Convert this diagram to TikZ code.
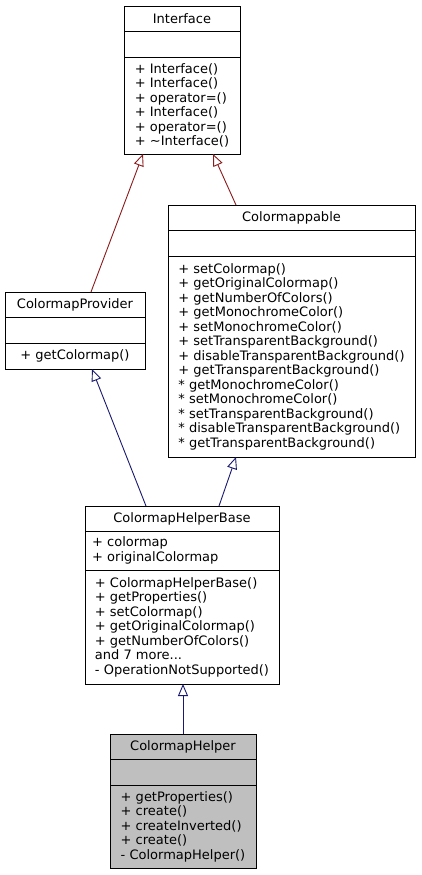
\documentclass[tikz,border=0pt]{standalone}
\usepackage{fontspec}
\setmainfont{DejaVu Sans}
\usetikzlibrary{positioning,arrows.meta}

\tikzset{
  classpart/.style={draw=black, line width=0.9pt, outer sep=0pt, inner sep=0pt,
    font=\fontsize{13}{14.5}\selectfont, align=left, fill=white},
  redline/.style={draw={rgb,255:red,139;green,26;blue,26}, line width=0.9pt,
    -{Triangle[open,length=12pt,width=10pt,fill=white]}},
  blueline/.style={draw={rgb,255:red,25;green,25;blue,112}, line width=0.9pt,
    -{Triangle[open,length=12pt,width=10pt,fill=white]}},
}

\begin{document}
\begin{tikzpicture}[x=1pt, y=1pt, node distance=0pt]
            \useasboundingbox (0,0) rectangle (421,-875);
            % Interface
            \node[classpart, minimum width=116, minimum height=25] (ifaceT) at (182,-18.5) {Interface};
            \node[classpart, minimum width=116, minimum height=26, below=of ifaceT] (ifaceA) {};
            \node[classpart, minimum width=116, minimum height=97, below=of ifaceA] (ifaceM)
              {+ Interface()\\+ Interface()\\+ operator=()\\+ Interface()\\+ operator=()\\+ \textasciitilde Interface()};
            % Colormappable
            \node[classpart, minimum width=247, minimum height=25] (cmapT) at (291.5,-217.5) {Colormappable};
            \node[classpart, minimum width=247, minimum height=26, below=of cmapT] (cmapA) {};
            \node[classpart, minimum width=247, minimum height=201, below=of cmapA] (cmapM)
              {+ setColormap()\\+ getOriginalColormap()\\+ getNumberOfColors()\\+ getMonochromeColor()\\%
               + setMonochromeColor()\\+ setTransparentBackground()\\+ disableTransparentBackground()\\%
               + getTransparentBackground()\\* getMonochromeColor()\\* setMonochromeColor()\\%
               * setTransparentBackground()\\* disableTransparentBackground()\\* getTransparentBackground()};
            % ColormapProvider
            \node[classpart, minimum width=140, minimum height=25] (provT) at (75,-304.5) {ColormapProvider};
            \node[classpart, minimum width=140, minimum height=26, below=of provT] (provA) {};
            \node[classpart, minimum width=140, minimum height=26, below=of provA] (provM) {+ getColormap()};
            % ColormapHelperBase
            \node[classpart, minimum width=194, minimum height=25] (baseT) at (182,-518.5) {ColormapHelperBase};
            \node[classpart, minimum width=194, minimum height=39, text width=180pt, below=of baseT] (baseA)
              {+ colormap\\+ originalColormap};
            \node[classpart, minimum width=194, minimum height=114, below=of baseA] (baseM)
              {+ ColormapHelperBase()\\+ getProperties()\\+ setColormap()\\+ getOriginalColormap()\\%
               + getNumberOfColors()\\and 7 more...\\- OperationNotSupported()};
            % ColormapHelper
            \node[classpart, fill={rgb,255:red,191;green,191;blue,191}, minimum width=146, minimum height=25] (helpT) at (183,-746.5) {ColormapHelper};
            \node[classpart, fill={rgb,255:red,191;green,191;blue,191}, minimum width=146, minimum height=26, below=of helpT] (helpA) {};
            \node[classpart, fill={rgb,255:red,191;green,191;blue,191}, minimum width=146, minimum height=83, below=of helpA] (helpM)
              {+ getProperties()\\+ create()\\+ createInverted()\\+ create()\\- ColormapHelper()};
            % inheritance
            \draw[redline] ([xshift=16pt]provT.north) -- ([xshift=-39pt]ifaceM.south);
            \draw[redline] ([xshift=-55.5pt]cmapT.north) -- ([xshift=31pt]ifaceM.south);
            \draw[blueline] ([xshift=-36pt]baseT.north) -- ([xshift=17pt]provM.south);
            \draw[blueline] ([xshift=37pt]baseT.north) -- ([xshift=-55.5pt]cmapM.south);
            \draw[blueline] (helpT.north) -- (baseM.south -| helpT.north);
        \end{tikzpicture}
\end{document}
